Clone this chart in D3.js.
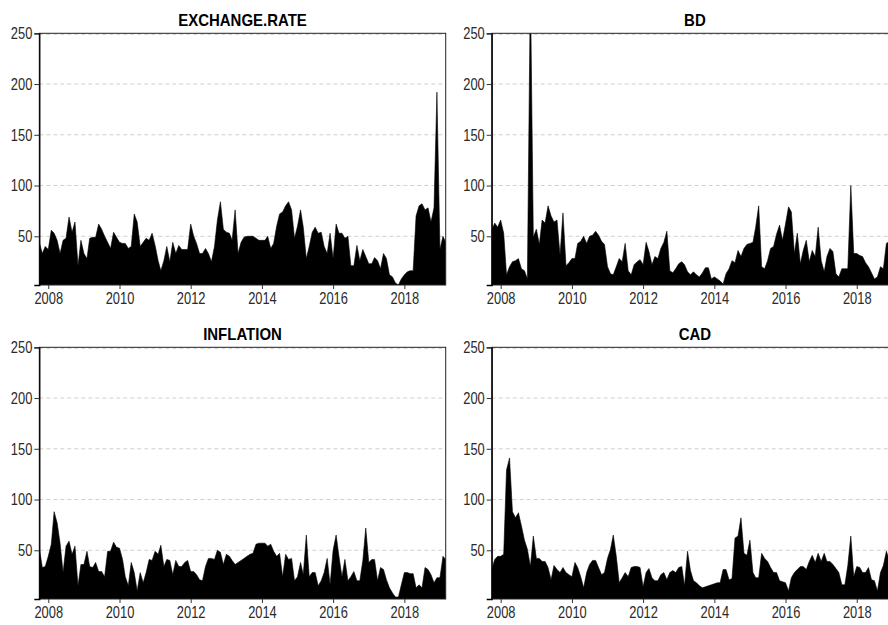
<!DOCTYPE html>
<html>
<head>
<meta charset="utf-8">
<script src="https://cdn.jsdelivr.net/npm/d3@7/dist/d3.min.js"></script>
<style>
  html, body { margin: 0; padding: 0; background: #fff; overflow: hidden; }
  svg { display: block; }
</style>
</head>
<body>
<svg id="chart" width="900" height="625"></svg>
<script>
// Monthly series, first month Oct 2007, last month Mar 2019 (138 values each)
const startMonth = "2007-10-01";
const seriesNames = ["EXCHANGE.RATE", "BD", "INFLATION", "CAD"];
const yTicks = [50, 100, 150, 200, 250];
const xTickYears = [2008, 2010, 2012, 2014, 2016, 2018];

const exchangeRate = [
  44,33,40,37,56,53,46,33,46,48, 69,54,64,21,46,33,28,48,49,49,
  62,57,50,44,38,54,49,44,43,43, 38,40,72,64,40,44,48,46,53,41,
  26,16,26,40,25,44,33,41,37,37, 37,62,50,43,33,33,38,33,25,40,
  66,84,57,54,53,46,76,33,44,49, 50,50,50,48,46,46,46,50,38,43,
  60,72,74,80,84,76,48,60,76,59, 28,40,54,59,53,54,40,33,53,28,
  62,53,53,48,50,21,21,41,26,37, 30,23,23,29,26,18,33,28,12,10,
  4,2,8,12,15,16,16,70,80,82, 76,78,64,78,192,37,50,44
];
const bd = [
  56,63,59,66,53,12,20,25,26,28, 18,16,8,300,49,57,42,66,63,80,
  70,64,66,31,73,21,24,28,28,43, 45,50,43,50,51,55,51,45,42,20,
  13,12,20,28,25,43,16,12,22,25, 27,22,44,35,22,30,28,38,44,55,
  16,14,18,23,25,22,15,12,15,12, 10,14,19,19,8,10,8,6,3,13,
  18,26,24,36,30,38,42,43,44,59, 80,20,18,26,38,40,52,61,46,62,
  79,74,33,53,23,36,46,25,36,30, 59,26,15,30,38,35,13,10,18,18,
  18,100,33,33,31,30,24,20,14,8, 10,20,18,43,45,30,35,28
];
const inflation = [
  52,33,34,44,56,88,77,57,28,54, 59,46,54,15,36,36,49,34,33,38,
  29,29,24,49,49,58,53,52,41,24, 15,38,28,10,28,18,28,41,40,49,
  46,55,34,41,40,26,40,34,34,38, 40,29,29,26,21,20,34,42,42,41,
  50,48,36,46,44,40,36,38,40,42, 44,46,47,56,57,57,57,54,56,49,
  44,47,24,46,41,42,20,24,38,26, 65,24,28,28,15,20,28,42,16,50,
  65,44,24,41,20,24,29,20,20,40, 72,38,41,41,20,33,31,21,13,8,
  4,4,16,28,28,27,27,13,16,13, 33,31,26,18,23,23,44,41
];
const cad = [
  31,41,44,44,46,129,141,88,82,87, 74,60,51,34,64,42,42,39,39,33,
  21,35,31,28,33,28,26,24,38,33, 24,13,28,36,40,40,33,26,28,42,
  51,65,44,18,23,28,24,33,34,34, 33,14,28,32,23,20,20,26,28,21,
  28,30,28,33,34,15,49,30,20,18, 15,13,14,15,16,17,18,18,31,31,
  21,22,62,64,82,47,45,60,28,23, 23,47,42,39,33,28,28,20,19,18,
  10,23,28,31,34,34,31,39,45,38, 47,39,47,39,39,36,32,28,16,16,
  35,64,24,34,33,28,28,33,21,20, 10,28,35,49,40,30,35,30
];
const seriesValues = [exchangeRate, bd, inflation, cad];

const svg = d3.select("#chart");
const fontSans = '"Liberation Sans", Arial, sans-serif';

const panelW = 406.4, panelH = 251.7;
const panelPos = [
  {x: 39.3, y: 33.3},
  {x: 491.7, y: 33.3},
  {x: 39.3, y: 347.3},
  {x: 491.7, y: 347.3}
];

function condense(sel, ratio) {
  sel.each(function() {
    const w = this.getComputedTextLength();
    d3.select(this).attr("textLength", w * ratio).attr("lengthAdjust", "spacingAndGlyphs");
  });
}

const start = new Date(startMonth + "T00:00:00");

seriesNames.forEach((name, k) => {
  const vals = seriesValues[k];
  const data = vals.map((v, i) => ({date: d3.timeMonth.offset(start, i), value: v}));
  const p = panelPos[k];
  const g = svg.append("g").attr("transform", `translate(${p.x},${p.y})`);

  const x = d3.scaleTime()
    .domain(d3.extent(data, d => d.date))
    .range([0, panelW]);
  const y = d3.scaleLinear().domain([2, 250]).range([panelH, 0]);

  const clipId = "clip" + k;
  g.append("clipPath").attr("id", clipId)
    .append("rect").attr("x", 0).attr("y", 0).attr("width", panelW).attr("height", panelH);

  // grid
  g.append("g").selectAll("line").data(yTicks).join("line")
    .attr("x1", 0).attr("x2", panelW)
    .attr("y1", d => y(d) + (d === 250 ? 1 : 0)).attr("y2", d => y(d) + (d === 250 ? 1 : 0))
    .attr("stroke", "#cfcfcf").attr("stroke-width", 1)
    .attr("stroke-dasharray", "4,3");

  // area
  const area = d3.area()
    .x(d => x(d.date))
    .y0(panelH)
    .y1(d => y(d.value));
  g.append("path").datum(data)
    .attr("clip-path", `url(#${clipId})`)
    .attr("d", area)
    .attr("fill", "#000").attr("stroke", "#000").attr("stroke-width", 0.6);

  // border
  g.append("rect").attr("x", 0).attr("y", 0).attr("width", panelW).attr("height", panelH)
    .attr("fill", "none").attr("stroke", "#222").attr("stroke-width", 1);

  // y axis
  const yAxis = d3.axisLeft(y).tickValues(yTicks).tickSize(5).tickPadding(2).tickFormat(d3.format("d"));
  const ya = g.append("g").call(yAxis);
  ya.select(".domain").attr("stroke", "#000").attr("stroke-width", 1.3);
  ya.selectAll(".tick line").attr("stroke", "#333");
  ya.selectAll(".tick text").attr("font-size", 16.5).attr("fill", "#2a2a2a")
    .style("font-family", fontSans).call(condense, 0.78);

  // x axis
  const xAxis = d3.axisBottom(x)
    .tickValues(xTickYears.map(yr => new Date(yr, 0, 1)))
    .tickSize(4).tickPadding(3)
    .tickFormat(d3.timeFormat("%Y"));
  const xa = g.append("g").attr("transform", `translate(0,${panelH})`).call(xAxis);
  xa.select(".domain").remove();
  xa.selectAll(".tick line").attr("stroke", "#333");
  xa.selectAll(".tick text").attr("font-size", 16.5).attr("fill", "#2a2a2a")
    .style("font-family", fontSans).call(condense, 0.78);

  // title
  g.append("text")
    .attr("x", panelW / 2).attr("y", -7)
    .attr("text-anchor", "middle")
    .style("font-family", fontSans)
    .attr("font-weight", "bold")
    .attr("font-size", 17)
    .attr("fill", "#000")
    .text(name)
    .call(condense, 0.88);
});
</script>
</body>
</html>
